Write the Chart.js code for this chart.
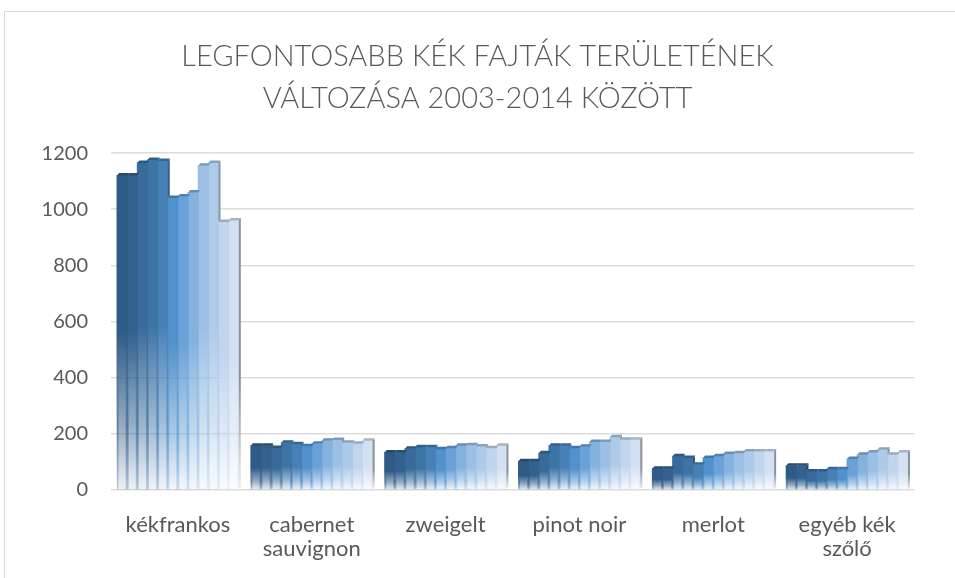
<!DOCTYPE html>
<html>
<head>
<meta charset="utf-8">
<script src="https://cdn.jsdelivr.net/npm/chart.js@4/dist/chart.umd.min.js"></script>
<style>
    html, body { margin: 0; padding: 0; background: #fff; overflow: hidden; }
    #frame { position: absolute; left: 4px; top: 11px; width: 1000px; height: 620px; border: 1px solid #d9d9d9; }
    #chart { position: absolute; left: 0; top: 0; }
</style>
</head>
<body>
<div id="frame"></div>
<canvas id="chart" width="955" height="578"></canvas>
<script>
// 年份 (12 sorozat)
const years = ['2003', '2004', '2005', '2006', '2007', '2008', '2009', '2010', '2011', '2012', '2013', '2014'];

// kategóriák
const categories = ['kékfrankos', ['cabernet', 'sauvignon'], 'zweigelt', 'pinot noir', 'merlot', ['egyéb kék', 'szőlő']];

// értékek fajtánként, 2003-2014
const kekfrankos = [1120, 1120, 1165, 1175, 1172, 1040, 1045, 1060, 1155, 1165, 955, 960];
const cabernet   = [158, 158, 150, 168, 163, 156, 165, 175, 178, 168, 165, 175];
const zweigelt   = [134, 134, 147, 152, 152, 145, 149, 158, 159, 155, 149, 158];
const pinotNoir  = [102, 102, 131, 158, 158, 149, 154, 171, 171, 188, 179, 179];
const merlot     = [76, 76, 120, 114, 90, 114, 120, 128, 131, 137, 137, 137];
const egyeb      = [86, 86, 66, 66, 74, 74, 110, 126, 134, 143, 126, 134];

const yTicks = [0, 200, 400, 600, 800, 1000, 1200];

// színek sötétkéktől világoskékig
const colors = ['#2f5b87', '#33628f', '#386b9b', '#3d74a6', '#4680b7', '#5292cc',
                '#6aa1d8', '#84b2df', '#9cc0e5', '#adcae8', '#c1d5ee', '#d3e0f2'];

const series = [kekfrankos, cabernet, zweigelt, pinotNoir, merlot, egyeb];

function rgba(hex, a) {
    const n = parseInt(hex.slice(1), 16);
    return `rgba(${n >> 16}, ${(n >> 8) & 255}, ${n & 255}, ${a})`;
}

function shade(hex, f) {
    const n = parseInt(hex.slice(1), 16);
    const r = Math.round((n >> 16) * f), g = Math.round(((n >> 8) & 255) * f), b = Math.round((n & 255) * f);
    return `rgb(${r}, ${g}, ${b})`;
}

// oszlop színátmenet: fent telt, lent kifakul
function barGradient(ctx, hex) {
    const chart = ctx.chart;
    if (!chart.chartArea || !chart.scales.y) return hex;
    const top = chart.scales.y.getPixelForValue(ctx.raw);
    const base = chart.scales.y.getPixelForValue(0);
    if (!isFinite(top) || base - top < 1) return hex;
    const g = chart.ctx.createLinearGradient(0, top, 0, base);
    g.addColorStop(0, hex);
    g.addColorStop(0.5, hex);
    g.addColorStop(0.8, rgba(hex, 0.5));
    g.addColorStop(1, rgba(hex, 0.08));
    return g;
}

const datasets = years.map((yr, i) => ({
    label: yr,
    data: series.map(s => s[i]),
    backgroundColor: ctx => barGradient(ctx, colors[i]),
    borderWidth: 0,
    inflateAmount: 0.5,
    categoryPercentage: 0.91,
    barPercentage: 1.0
}));

// 3D hatás: tetőlap, oldallap, csíkok a kifakuló részen
const facesPlugin = {
    id: 'faces',
    afterDatasetsDraw(chart) {
        const c = chart.ctx;
        const metas = years.map((_, i) => chart.getDatasetMeta(i));
        c.save();
        for (let j = 0; j < categories.length; j++) {
            for (let i = 0; i < metas.length; i++) {
                const el = metas[i].data[j];
                const { x, y, width, base } = el.getProps(['x', 'y', 'width', 'base'], true);
                const left = x - width / 2, right = x + width / 2;
                const h = base - y;
                // csíkok a bal és jobb szélen
                const sg = c.createLinearGradient(0, y, 0, base);
                sg.addColorStop(0, rgba(colors[i], 0));
                sg.addColorStop(0.5, rgba(colors[i], 0));
                sg.addColorStop(0.8, rgba(shade(colors[i], 1) === '' ? colors[i] : colors[i], 0.55));
                sg.addColorStop(1, rgba(colors[i], 0.25));
                c.fillStyle = sg;
                c.fillRect(left, y + h * 0.45, 1.5, h * 0.55);
                c.fillRect(right - 1.5, y + h * 0.45, 1.5, h * 0.55);
                // tetőlap
                c.fillStyle = shade(colors[i], 0.8);
                c.beginPath();
                c.moveTo(left, y);
                c.lineTo(left + 2, y - 2.5);
                c.lineTo(right + 2, y - 2.5);
                c.lineTo(right, y);
                c.closePath();
                c.fill();
                // oldallap, ahol a szomszéd alacsonyabb
                let bottom;
                let col = shade(colors[i], 0.75);
                if (i < metas.length - 1) {
                    const next = metas[i + 1].data[j].getProps(['y'], true).y;
                    bottom = next > y ? next : null;
                } else {
                    bottom = base;
                    col = '#8a9099';
                }
                if (bottom !== null) {
                    const g = c.createLinearGradient(0, y, 0, base);
                    g.addColorStop(0, col);
                    g.addColorStop(0.6, col);
                    g.addColorStop(1, 'rgba(160,166,175,0.2)');
                    c.fillStyle = i < metas.length - 1 ? col : g;
                    c.beginPath();
                    c.moveTo(right, y);
                    c.lineTo(right + 2, y - 2.5);
                    c.lineTo(right + 2, bottom - 2.5);
                    c.lineTo(right, bottom);
                    c.closePath();
                    c.fill();
                }
            }
        }
        c.restore();
    }
};

new Chart(document.getElementById('chart'), {
    type: 'bar',
    data: {
        labels: categories,
        datasets: datasets
    },
    options: {
        responsive: false,
        animation: false,
        layout: { padding: { left: 41, right: 41, top: 0, bottom: 0 } },
        plugins: {
            legend: { display: false },
            tooltip: { enabled: false },
            title: {
                display: true,
                text: ['LEGFONTOSABB KÉK FAJTÁK TERÜLETÉNEK', 'VÁLTOZÁSA 2003-2014 KÖZÖTT'],
                color: '#595959',
                font: { family: 'Lato', size: 29, weight: '300', lineHeight: 1.45 },
                padding: { top: 36, bottom: 33 }
            }
        },
        scales: {
            x: {
                grid: { display: false },
                border: { display: false },
                ticks: {
                    color: '#595959',
                    font: { family: 'Lato', size: 22, lineHeight: 1.1 },
                    padding: 15,
                    maxRotation: 0,
                    autoSkip: false
                },
                afterFit(scale) { scale.height = 88; }
            },
            y: {
                min: 0,
                max: 1200,
                afterBuildTicks(scale) { scale.ticks = yTicks.map(v => ({ value: v })); },
                grid: { color: '#dcdcdc', lineWidth: 1.5, drawTicks: false },
                border: { display: false },
                ticks: {
                    color: '#595959',
                    font: { family: 'Lato', size: 20 },
                    padding: 23,
                    callback: v => String(v)
                },
                afterFit(scale) { scale.width = 70; }
            }
        }
    },
    plugins: [facesPlugin]
});
</script>
</body>
</html>
